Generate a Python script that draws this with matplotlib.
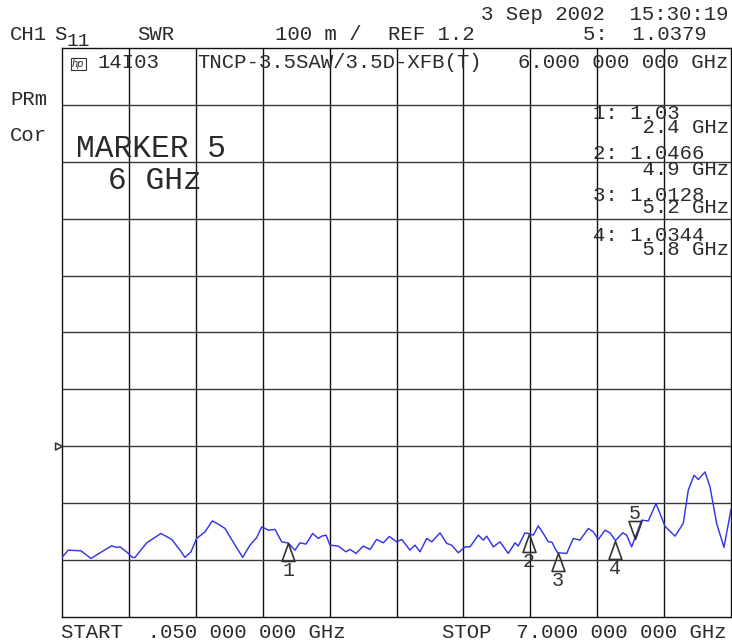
import numpy as np
import matplotlib
matplotlib.use("Agg")
import matplotlib.pyplot as plt
from matplotlib.path import Path

# ---------------- data ----------------
freq_ghz = [0.05, 0.115, 0.247, 0.351, 0.445, 0.566, 0.618, 0.653, 0.733, 0.780,
            0.808, 0.930, 1.078, 1.190, 1.276, 1.328, 1.390, 1.449, 1.536, 1.611,
            1.674, 1.743, 1.795, 1.927, 2.003, 2.073, 2.125, 2.193, 2.263, 2.332,
            2.400, 2.471, 2.522, 2.585, 2.654, 2.713, 2.748, 2.793, 2.834, 2.920,
            3.000, 3.042, 3.104, 3.180, 3.250, 3.319, 3.388, 3.450, 3.527, 3.579,
            3.665, 3.717, 3.769, 3.839, 3.891, 3.977, 4.047, 4.098, 4.167, 4.237,
            4.289, 4.375, 4.427, 4.462, 4.531, 4.600, 4.686, 4.756, 4.790, 4.860,
            4.900, 4.946, 4.998, 5.050, 5.102, 5.140, 5.172, 5.200, 5.293, 5.362,
            5.431, 5.518, 5.570, 5.622, 5.691, 5.743, 5.800, 5.875, 5.916, 5.968,
            6.000, 6.072, 6.141, 6.221, 6.314, 6.418, 6.504, 6.556, 6.616, 6.660,
            6.730, 6.782, 6.851, 6.927, 7.000]
swr = [1.0047, 1.0175, 1.0163, 1.0030, 1.0128, 1.0251, 1.0223, 1.0233, 1.0128, 1.0047,
       1.0047, 1.0304, 1.0468, 1.0363, 1.0175, 1.0047, 1.0146, 1.0381, 1.0496, 1.0689,
       1.0632, 1.0556, 1.0409, 1.0047, 1.0263, 1.0398, 1.0584, 1.0526, 1.0539, 1.0321,
       1.0300, 1.0175, 1.0304, 1.0281, 1.0468, 1.0381, 1.0421, 1.0439, 1.0263, 1.0246,
       1.0146, 1.0188, 1.0118, 1.0246, 1.0188, 1.0363, 1.0304, 1.0415, 1.0321, 1.0363,
       1.0175, 1.0263, 1.0146, 1.0381, 1.0321, 1.0479, 1.0293, 1.0263, 1.0128, 1.0233,
       1.0233, 1.0439, 1.0351, 1.0421, 1.0233, 1.0321, 1.0118, 1.0304, 1.0246, 1.0479,
       1.0466, 1.0439, 1.0602, 1.0468, 1.0321, 1.0316, 1.0205, 1.0128, 1.0118, 1.0381,
       1.0351, 1.0556, 1.0496, 1.0363, 1.0526, 1.0479, 1.0344, 1.0479, 1.0439, 1.0233,
       1.0379, 1.0702, 1.0689, 1.0995, 1.0596, 1.0421, 1.0644, 1.1228, 1.1491, 1.1416,
       1.1549, 1.1286, 1.0644, 1.0223, 1.0889]

marker_ids = ["1", "2", "3", "4", "5"]
marker_freq = [2.4, 4.9, 5.2, 5.8, 6.0]
marker_swr = [1.03, 1.0466, 1.0128, 1.0344, 1.0379]
marker_freq_labels = ["2.4 GHz", "4.9 GHz", "5.2 GHz", "5.8 GHz", "6 GHz"]
marker_val_labels = ["1.03", "1.0466", "1.0128", "1.0344", "1.0379"]

start_ghz, stop_ghz = 0.05, 7.0
ref_value = 1.2
scale_per_div = 0.1
n_div = 10

# ---------------- figure ----------------
W, H = 732, 641
fig = plt.figure(figsize=(W / 100, H / 100), dpi=100)
fig.patch.set_facecolor("white")

ax = fig.add_axes([62 / W, (H - 617) / H, 669 / W, 569 / H])
ymin = ref_value - 3 * scale_per_div
ymax = ymin + n_div * scale_per_div
ax.set_xlim(start_ghz, stop_ghz)
ax.set_ylim(ymin, ymax)

for xv in np.linspace(start_ghz, stop_ghz, n_div + 1)[1:-1]:
    ax.axvline(xv, color="#111111", lw=1.0, zorder=1)
for yv in np.linspace(ymin, ymax, n_div + 1)[1:-1]:
    ax.axhline(yv, color="#3a3a3a", lw=1.0, zorder=1)
ax.set_xticks([])
ax.set_yticks([])
for sp in ax.spines.values():
    sp.set_color("#111111")
    sp.set_linewidth(1.0)

ax.plot(freq_ghz, swr, color="#3535e8", lw=1.05, zorder=3)

# marker triangles (apex on the trace)
tri_up = Path([(0, 0), (-0.36, -1), (0.36, -1), (0, 0)], closed=True)
tri_dn = Path([(0, 0), (-0.36, 1), (0.36, 1), (0, 0)], closed=True)
px2pt = 72 / 100
for mid, f, v in zip(marker_ids, marker_freq, marker_swr):
    active = (mid == "5")
    ax.plot([f], [v], marker=tri_dn if active else tri_up, markersize=25.9,
            markerfacecolor="none", markeredgecolor="#333333",
            markeredgewidth=1.2, zorder=4, clip_on=False)
    off = 20 if active else -33
    ax.annotate(mid, xy=(f, v), xytext=(0, off * px2pt), textcoords="offset points",
                ha="center", va="baseline", fontsize=14.5,
                family="Liberation Mono", color="#333333", zorder=5)

# reference-level indicator on the left edge
ref_tri = Path([(0, 0), (-1, 0.5), (-1, -0.5), (0, 0)], closed=True)
ax.plot([start_ghz], [ref_value], marker=ref_tri, markersize=10,
        markerfacecolor="none", markeredgecolor="#333333", markeredgewidth=1.1,
        clip_on=False, zorder=5)

# ---------------- texts ----------------
FS = 14.9
TXT = "#2a2a2a"


def T(x, y, s, size=FS, ha="left", **kw):
    fig.text(x / W, 1 - y / H, s, fontsize=size, family="Liberation Mono",
             ha=ha, va="baseline", color=TXT, **kw)


T(481, 20, "3 Sep 2002  15:30:19")
T(10, 40, "CH1")
T(54, 40, "S")
T(67, 46, "11", size=14)
T(137, 40, "SWR")
T(275, 40, "100 m /")
T(388, 40, "REF 1.2")
T(583, 40, "5:  " + marker_val_labels[4])

fig.text(72 / W, 1 - 67 / H, "hp", fontsize=7, family="DejaVu Sans",
         style="italic", ha="left", va="baseline", color=TXT,
         bbox=dict(boxstyle="square,pad=0.15", fc="none", ec="#333333", lw=0.8))
T(97, 68, "14I03")
T(197, 68, "TNCP-3.5SAW/3.5D-XFB(T)")
T(518, 68, "6.000 000 000 GHz")

T(10, 105, "PRm")
T(10, 141, "Cor")

BIG = 22.5
T(76, 157, "MARKER 5", size=BIG)
T(108, 189, marker_freq_labels[4], size=BIG)

# marker readouts: value line + frequency line (one two-line text each);
# anchored at the baseline of the frequency line
read_base = [133, 175, 213, 255]
read_spacing = [0.64, 0.81, 0.52, 0.64]
for i in range(4):
    s = f"{marker_ids[i]}: {marker_val_labels[i]}\n    {marker_freq_labels[i]}"
    fig.text(593 / W, 1 - read_base[i] / H, s, fontsize=FS, family="Liberation Mono",
             ha="left", va="baseline", ma="left", color=TXT,
             linespacing=read_spacing[i])

T(61, 638, "START  .050 000 000 GHz")
T(442, 638, "STOP  7.000 000 000 GHz")

fig.savefig("out.png", dpi=100)
